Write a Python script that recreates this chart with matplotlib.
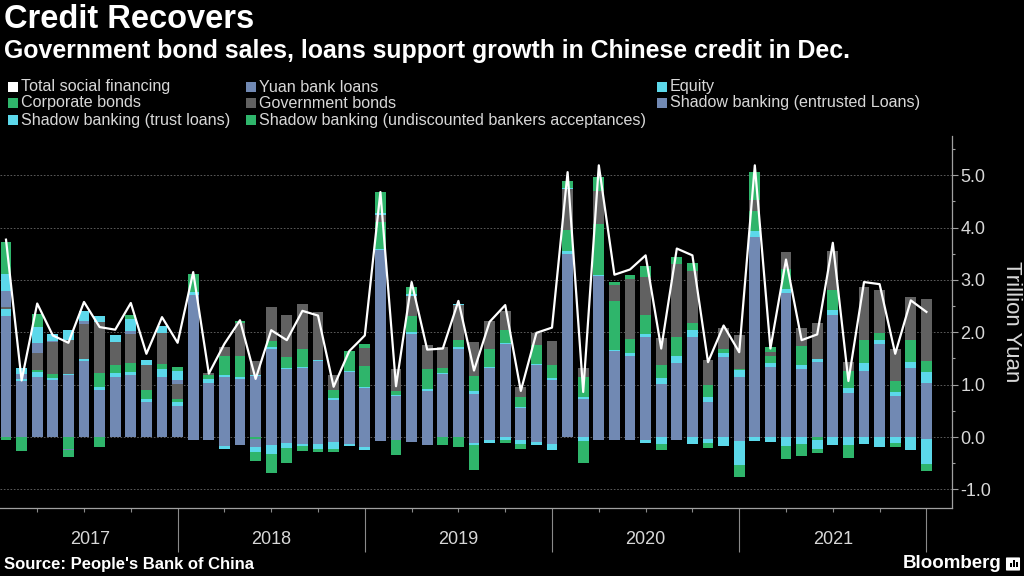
import matplotlib
matplotlib.use("Agg")
import matplotlib.pyplot as plt
import numpy as np
from matplotlib.patches import Rectangle, FancyBboxPatch
from matplotlib.transforms import blended_transform_factory

plt.rcParams['font.family'] = ['Liberation Sans', 'DejaVu Sans']

# monthly flows, Jan 2017 .. Dec 2021, trillion yuan
years = ['2017', '2018', '2019', '2020', '2021']

tsf = [3.77, 1.08, 2.55, 1.94, 1.80, 2.58, 2.10, 2.05, 2.56, 1.59, 2.29, 1.80,
       3.15, 1.21, 1.78, 2.23, 1.11, 2.04, 1.85, 2.41, 2.32, 0.96, 1.64, 1.94,
       4.68, 0.97, 2.96, 1.67, 1.69, 2.60, 1.27, 2.20, 2.52, 0.88, 1.99, 2.09,
       5.06, 0.86, 5.19, 3.10, 3.20, 3.47, 1.69, 3.60, 3.47, 1.43, 2.13, 1.62,
       5.19, 1.69, 3.39, 1.85, 1.96, 3.71, 1.07, 2.96, 2.92, 1.59, 2.61, 2.39]

yuan_loans = [2.31, 1.07, 1.15, 1.08, 1.19, 1.45, 0.90, 1.15, 1.19, 0.67, 1.15, 0.59,
              2.71, 1.04, 1.15, 1.11, 1.17, 1.68, 1.29, 1.32, 1.45, 0.71, 1.24, 0.94,
              3.57, 0.78, 1.96, 0.88, 1.20, 1.69, 0.82, 1.31, 1.77, 0.56, 1.38, 1.08,
              3.50, 0.73, 3.07, 1.64, 1.55, 1.91, 1.02, 1.41, 1.91, 0.67, 1.53, 1.15,
              3.82, 1.34, 2.75, 1.29, 1.43, 2.34, 0.84, 1.27, 1.77, 0.78, 1.31, 1.04]

equity = [0.13, 0.03, 0.10, 0.05, 0.02, 0.04, 0.05, 0.08, 0.05, 0.06, 0.14, 0.08,
          0.06, 0.06, 0.04, 0.03, 0.02, 0.04, 0.03, 0.02, 0.02, 0.04, 0.03, 0.02,
          0.03, 0.03, 0.04, 0.03, 0.02, 0.02, 0.06, 0.02, 0.03, 0.02, 0.02, 0.04,
          0.06, 0.04, 0.02, 0.03, 0.06, 0.05, 0.11, 0.13, 0.13, 0.10, 0.08, 0.13,
          0.11, 0.08, 0.08, 0.08, 0.06, 0.09, 0.10, 0.14, 0.09, 0.08, 0.13, 0.20]

corp_bonds = [-0.05, -0.10, 0.03, 0.08, -0.22, 0.00, 0.27, 0.14, 0.17, 0.17, 0.10, 0.06,
              0.17, 0.08, 0.35, 0.41, -0.03, 0.12, 0.21, 0.35, 0.00, 0.14, 0.37, 0.39,
              0.50, 0.07, 0.32, 0.39, 0.10, 0.14, 0.29, 0.35, 0.24, 0.19, 0.35, 0.26,
              0.39, 0.38, 0.97, 0.92, 0.26, 0.37, 0.25, 0.37, 0.13, 0.22, 0.08, 0.02,
              0.38, 0.13, 0.38, 0.36, -0.05, 0.38, 0.32, 0.45, 0.13, 0.21, 0.41, 0.22]

gov_bonds = [0.05, 0.00, 0.32, 0.60, 0.65, 0.67, 0.97, 0.44, 0.56, 0.48, 0.60, 0.29,
             0.00, 0.05, 0.18, 0.62, 0.27, 0.64, 0.80, 0.86, 0.91, 0.29, 0.00, 0.35,
             0.15, 0.41, 0.37, 0.46, 0.40, 0.67, 0.64, 0.53, 0.37, 0.19, 0.24, 0.46,
             0.78, 0.17, 0.64, 0.32, 1.14, 0.73, 0.52, 1.40, 1.00, 0.49, 0.40, 0.64,
             0.22, 0.07, 0.32, 0.36, 0.68, 0.75, 0.17, 1.01, 0.82, 0.62, 0.83, 1.18]

entrusted = [0.30, 0.10, 0.20, 0.03, -0.03, 0.05, 0.00, 0.00, 0.06, 0.00, 0.00, 0.06,
             -0.06, -0.06, -0.17, -0.15, -0.16, -0.16, -0.11, -0.13, -0.14, -0.10, -0.14, -0.20,
             -0.07, -0.06, -0.10, -0.15, 0.00, 0.00, -0.11, -0.06, 0.00, -0.06, -0.10, -0.13,
             0.00, 0.00, -0.06, -0.05, -0.05, -0.06, 0.00, -0.06, 0.00, -0.03, 0.00, -0.08,
             0.00, 0.00, 0.00, 0.00, 0.00, 0.00, 0.00, 0.00, 0.00, 0.00, 0.00, -0.03]

trust_loans = [0.32, 0.12, 0.31, 0.13, 0.18, 0.19, 0.13, 0.14, 0.23, 0.10, 0.14, 0.18,
               0.00, 0.00, -0.05, 0.00, -0.09, -0.16, -0.10, -0.05, -0.08, -0.13, -0.04, -0.05,
               0.03, 0.00, 0.04, 0.00, 0.00, 0.02, -0.05, -0.05, -0.06, -0.08, -0.06, -0.11,
               0.03, -0.08, 0.00, 0.00, 0.00, -0.06, -0.14, 0.00, -0.14, -0.08, -0.18, -0.46,
               -0.08, -0.10, -0.18, -0.14, -0.17, -0.16, -0.16, -0.13, -0.20, -0.11, -0.25, -0.48]

bankers_acc = [0.62, -0.17, 0.24, 0.00, -0.14, 0.00, -0.19, 0.00, 0.08, 0.00, 0.00, 0.08,
               0.18, 0.00, 0.00, 0.05, -0.17, -0.37, -0.29, -0.09, -0.06, -0.06, 0.00, 0.08,
               0.40, -0.29, 0.13, 0.00, -0.15, -0.20, -0.47, 0.00, -0.05, -0.08, 0.00, 0.00,
               0.13, -0.42, 0.27, 0.06, 0.08, 0.21, -0.11, 0.13, 0.16, -0.10, 0.00, -0.22,
               0.53, 0.09, -0.24, -0.23, -0.08, 0.00, -0.24, 0.00, 0.00, -0.09, 0.00, -0.13]

BLUE = '#7189b3'
CYAN = '#5cd8ea'
GREEN = '#2fb56b'
GREY = '#616161'

W, H = 1024, 576
fig = plt.figure(figsize=(W / 100, H / 100), dpi=100, facecolor='black')


def fx(p):
    return p / W


def fy(p):
    return 1 - p / H


# axes area in pixels: x 0..952, y 136..508
ax = fig.add_axes([0, fy(508), fx(952), (508 - 136) / H])
ax.set_facecolor('black')

x = np.arange(len(tsf))
series = [yuan_loans, equity, corp_bonds, gov_bonds, entrusted, trust_loans, bankers_acc]
colors = [BLUE, CYAN, GREEN, GREY, BLUE, CYAN, GREEN]

pos_base = np.zeros(len(x))
neg_base = np.zeros(len(x))
for vals, c in zip(series, colors):
    v = np.array(vals)
    pos = np.where(v > 0, v, 0)
    neg = np.where(v < 0, v, 0)
    ax.bar(x, pos, bottom=pos_base, width=0.7, color=c, linewidth=0, zorder=3)
    ax.bar(x, neg, bottom=neg_base, width=0.7, color=c, linewidth=0, zorder=3)
    pos_base += pos
    neg_base += neg

ax.plot(x, tsf, color='white', lw=1.6, zorder=5)

ax.set_xlim(-0.385, 60.64)
ax.set_ylim(-1.356, 5.75)

# right axis
ax.yaxis.tick_right()
ax.set_yticks([-1, 0, 1, 2, 3, 4, 5])
ax.set_yticklabels(['-1.0', '0.0', '1.0', '2.0', '3.0', '4.0', '5.0'])
ax.set_yticks(np.arange(-0.5, 5.6, 1.0), minor=True)
ax.tick_params(axis='y', which='major', length=4, width=0.8, color='#a0a0a0',
               labelcolor='#d8d8d8', labelsize=13, pad=2)
ax.tick_params(axis='y', which='minor', length=2.5, width=0.8, color='#a0a0a0')
ax.grid(axis='y', which='major', color='#6a6a6a', linestyle=(0, (2, 2)), lw=0.6, zorder=0)

# bottom axis: year separators and quarter ticks
ax.set_xticks([11, 23, 35, 47, 59])
ax.set_xticklabels([])
ax.set_xticks([2, 5, 8, 14, 17, 20, 26, 29, 32, 38, 41, 44, 50, 53, 56], minor=True)
ax.tick_params(axis='x', which='major', length=32, width=0.8, color='#8a8a8a', direction='out')
ax.tick_params(axis='x', which='minor', length=3, width=0.8, color='#8a8a8a', direction='out')

for s in ['left', 'top']:
    ax.spines[s].set_visible(False)
ax.spines['bottom'].set_color('#a0a0a0')
ax.spines['right'].set_color('#a0a0a0')
ax.spines['bottom'].set_linewidth(0.9)
ax.spines['right'].set_linewidth(0.9)

trans = blended_transform_factory(ax.transData, fig.transFigure)
year_pos = [5.4, 17, 29, 41, 53]
for xp, yr in zip(year_pos, years):
    ax.text(xp, fy(540), yr, transform=trans, ha='center', va='center',
            color='#d8d8d8', fontsize=13)

fig.text(fx(1011), fy(322), 'Trillion Yuan', rotation=270, ha='center', va='center',
         color='#d8d8d8', fontsize=16)

# titles
fig.text(fx(4), fy(19), 'Credit Recovers', ha='left', va='center', color='white',
         fontsize=23.5, fontweight='bold')
fig.text(fx(4), fy(51), 'Government bond sales, loans support growth in Chinese credit in Dec.',
         ha='left', va='center', color='white', fontsize=17.9, fontweight='bold')

# legend
legend_items = [
    ('Total social financing', 'white', 8, 87),
    ('Yuan bank loans', BLUE, 246, 87),
    ('Equity', CYAN, 657, 87),
    ('Corporate bonds', GREEN, 8, 103),
    ('Government bonds', GREY, 246, 103),
    ('Shadow banking (entrusted Loans)', BLUE, 657, 103),
    ('Shadow banking (trust loans)', CYAN, 8, 120),
    ('Shadow banking (undiscounted bankers acceptances)', GREEN, 246, 120),
]
for label, c, lx, ly in legend_items:
    fig.patches.append(Rectangle((fx(lx), fy(ly + 5)), fx(10), 10 / H, transform=fig.transFigure,
                                 facecolor=c, edgecolor='none'))
    fig.text(fx(lx + 13), fy(ly), label, ha='left', va='center', color='#d8d8d8', fontsize=11.6)

# footer
fig.text(fx(4), fy(564), 'Source: People\'s Bank of China', ha='left', va='center',
         color='white', fontsize=12, fontweight='bold')
fig.text(fx(1002), fy(563), 'Bloomberg', ha='right', va='center', color='white',
         fontsize=13.5, fontweight='bold')
fig.patches.append(FancyBboxPatch((fx(1007), fy(570)), fx(12), 12 / H,
                                  boxstyle='round,pad=0.001', transform=fig.transFigure,
                                  facecolor='white', edgecolor='none'))
for bx, bh in [(1010, 4), (1013, 7), (1016, 5)]:
    fig.patches.append(Rectangle((fx(bx), fy(567)), fx(1.6), bh / H, transform=fig.transFigure,
                                 facecolor='black', edgecolor='none'))

fig.savefig('out.png', dpi=100, facecolor='black')
